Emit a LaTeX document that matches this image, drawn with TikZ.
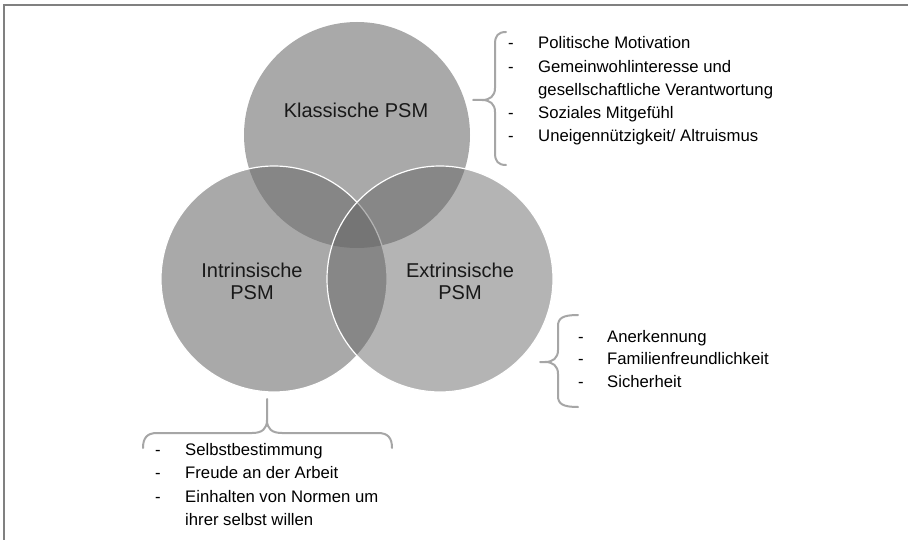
\documentclass[tikz,border=0pt]{standalone}
\usepackage{fontspec}
\setmainfont{Liberation Sans}
\usetikzlibrary{positioning}

\definecolor{psmgray}{RGB}{110,110,110}
\definecolor{psmgraydark}{RGB}{99,99,99}
\definecolor{bracegray}{RGB}{166,166,166}
\definecolor{framegray}{RGB}{128,128,128}

\tikzset{
  psm/.style={circle, minimum size=226pt, inner sep=0pt, fill=psmgray, fill opacity=0.59},
  psmlabel/.style={font=\fontsize{20}{23}\selectfont, text=black!90, align=center, inner sep=0pt},
  item/.style={font=\fontsize{16.7}{20}\selectfont, anchor=base west, inner sep=0pt},
  bracket/.style={bracegray, line width=2pt, line cap=round, line join=round}
}

\begin{document}
\begin{tikzpicture}[x=1pt,y=-1pt]

\useasboundingbox (0,0) rectangle (908,540);
\fill [white] (0,0) rectangle (908,540);
\draw [framegray, line width=1.5pt] (4,540)--(4,5)--(908,5);

% the three circles
\node [psm] (klass) at (357,135) {};
\node [psm, draw=white, line width=1.2pt] (intr) at (274,279) {};
\node [psm, fill=psmgraydark, fill opacity=0.48, draw=white, line width=1.2pt] (extr) at (440,279) {};

\node [psmlabel, anchor=base] (klasstxt) at (356,118) {Klassische PSM};
\node [psmlabel, anchor=base] (intrtxt) at (252,277) {Intrinsische};
\node [psmlabel, anchor=base] (intrtxt2) at (252,299) {PSM};
\node [psmlabel, anchor=base] (extrtxt) at (460,277) {Extrinsische};
\node [psmlabel, anchor=base] (extrtxt2) at (460,299) {PSM};

% braces
\draw [bracket] (506,32) .. controls (498,32) and (495,36) .. (495,44) -- (495,88)
  .. controls (495,96) and (490,100) .. (482,100) -- (473,100) -- (482,100)
  .. controls (490,100) and (495,104) .. (495,112) -- (495,153)
  .. controls (495,161) and (498,165) .. (506,165);
\draw [bracket] (578,315) .. controls (563,315) and (558,318) .. (558,326) -- (558,350)
  .. controls (558,358) and (553,362) .. (545,362) -- (540,362) -- (545,362)
  .. controls (553,362) and (558,366) .. (558,374) -- (558,396)
  .. controls (558,404) and (563,407) .. (578,407);
\draw [bracket] (143,448) .. controls (143,438) and (147,433) .. (157,433) -- (252,433)
  .. controls (262,433) and (267,429) .. (267,420) -- (267,399) -- (267,420)
  .. controls (267,429) and (272,433) .. (282,433) -- (378,433)
  .. controls (388,433) and (392,438) .. (392,448);

% Klassische PSM
\node [item] (kd1) at (508,49) {-};
\node [item] (kd2) at (508,73) {-};
\node [item] (kd3) at (508,119) {-};
\node [item] (kd4) at (508,142) {-};
\node [item] (k1) at (538,49) {Politische Motivation};
\node [item] (k2) at (538,73) {Gemeinwohlinteresse und};
\node [item] (k2b) at (538,96) {gesellschaftliche Verantwortung};
\node [item] (k3) at (538,119) {Soziales Mitgefühl};
\node [item] (k4) at (538,142) {Uneigennützigkeit/ Altruismus};

% Extrinsische PSM
\node [item] (ed1) at (578,342) {-};
\node [item] (ed2) at (578,364) {-};
\node [item] (ed3) at (578,387) {-};
\node [item] (e1) at (607,342) {Anerkennung};
\node [item] (e2) at (607,364) {Familienfreundlichkeit};
\node [item] (e3) at (607,387) {Sicherheit};

% Intrinsische PSM
\node [item] (id1) at (155,455) {-};
\node [item] (id2) at (155,478) {-};
\node [item] (id3) at (155,502) {-};
\node [item] (i1) at (185,455) {Selbstbestimmung};
\node [item] (i2) at (185,478) {Freude an der Arbeit};
\node [item] (i3) at (185,502) {Einhalten von Normen um};
\node [item] (i3b) at (185,525) {ihrer selbst willen};

\end{tikzpicture}
\end{document}
